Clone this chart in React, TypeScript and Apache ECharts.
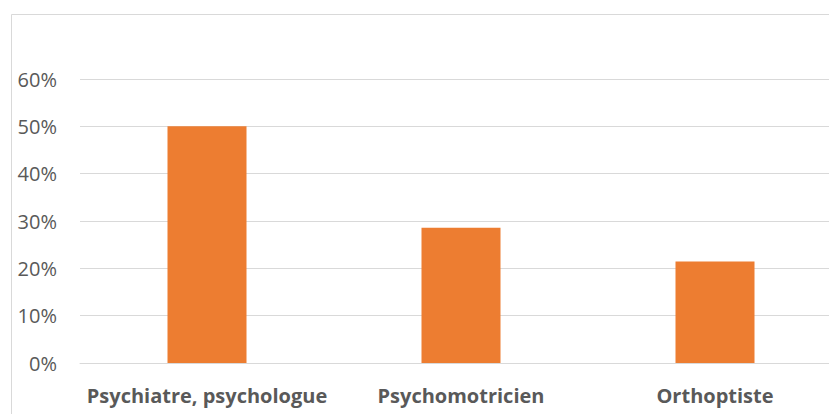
import React, { useEffect, useRef } from "react";
import * as echarts from "echarts";

const categories = ["Psychiatre, psychologue", "Psychomotricien", "Orthoptiste"];
const shares = [0.5, 0.2857, 0.2143];
const yTicks = [0, 0.1, 0.2, 0.3, 0.4, 0.5, 0.6];

export default function App() {
  const ref = useRef<HTMLDivElement>(null);

  useEffect(() => {
    if (!ref.current) return;
    const chart = echarts.init(ref.current, undefined, { renderer: "svg" });
    chart.setOption({
      animation: false,
      backgroundColor: "#ffffff",
      graphic: [
        {
          type: "rect",
          shape: { x: 11.5, y: 14.5, width: 840, height: 420 },
          style: { fill: "none", stroke: "#d9d9d9", lineWidth: 1 },
          silent: true,
        },
      ],
      grid: { left: 80, top: 79, width: 762, height: 284, containLabel: false },
      xAxis: {
        type: "category",
        data: categories,
        axisLine: { show: true, lineStyle: { color: "#d9d9d9", width: 1 } },
        axisTick: { show: false },
        axisLabel: {
          interval: 0,
          color: "#595959",
          fontFamily: "'Open Sans', sans-serif",
          fontWeight: "bold",
          fontSize: 20,
          margin: 22,
        },
      },
      yAxis: {
        type: "value",
        min: 0,
        max: yTicks[yTicks.length - 1],
        interval: 0.1,
        axisLine: { show: false },
        axisTick: { show: false },
        splitLine: { lineStyle: { color: "#d9d9d9", width: 1 } },
        axisLabel: {
          color: "#595959",
          fontFamily: "'Open Sans', sans-serif",
          fontSize: 20,
          margin: 23,
          formatter: (v: number) => `${Math.round(v * 100)}%`,
        },
      },
      series: [
        {
          type: "bar",
          data: shares,
          barWidth: 79,
          itemStyle: { color: "#ED7D31" },
        },
      ],
    });
    return () => chart.dispose();
  }, []);

  return (
    <div
      style={{
        position: "fixed",
        left: 0,
        top: 0,
        width: 829,
        height: 414,
        overflow: "hidden",
      }}
    >
      <div ref={ref} style={{ width: 860, height: 440 }} />
    </div>
  );
}
